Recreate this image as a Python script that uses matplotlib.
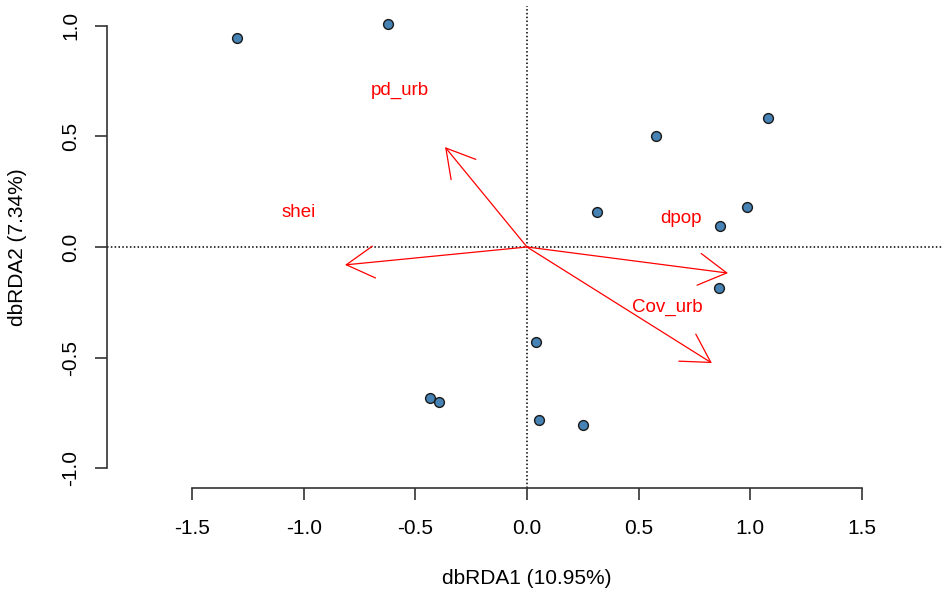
import numpy as np
import matplotlib
matplotlib.use("Agg")
import matplotlib.pyplot as plt
from matplotlib.patches import FancyArrowPatch, ArrowStyle

plt.rcParams['font.family'] = ['Liberation Sans', 'DejaVu Sans']
plt.rcParams['axes.unicode_minus'] = False

# site scores on the first two dbRDA axes
site_x = [-1.299, -0.622, 0.578, 1.079, 0.313, 0.985, 0.864, 0.860,
          0.040, -0.434, -0.394, 0.054, 0.251]
site_y = [0.946, 1.009, 0.502, 0.584, 0.158, 0.181, 0.095, -0.186,
          -0.430, -0.683, -0.701, -0.783, -0.805]

# environmental vectors (arrow tips) and their label positions
env_names = ["pd_urb", "shei", "dpop", "Cov_urb"]
env_x = [-0.367, -0.815, 0.900, 0.828]
env_y = [0.452, -0.081, -0.118, -0.525]
lab_x = [-0.569, -1.021, 0.690, 0.627]
lab_y = [0.706, 0.158, 0.131, -0.271]

xticks = [-1.5, -1.0, -0.5, 0.0, 0.5, 1.0, 1.5]
yticks = [-1.0, -0.5, 0.0, 0.5, 1.0]

fig = plt.figure(figsize=(9.43, 5.94), dpi=100)
ax = fig.add_axes([107 / 943, 106 / 594, 836 / 943, 482 / 594])
ax.set_xlim(-1.881, 1.863)
ax.set_ylim(-1.090, 1.090)

ax.axhline(0, color="black", lw=1.1, ls=(0, (1, 1.5)), zorder=1)
ax.axvline(0, color="black", lw=1.1, ls=(0, (1, 1.5)), zorder=1)

head = ArrowStyle("->", head_length=20, head_width=11.5)
for x, y in zip(env_x, env_y):
    arr = FancyArrowPatch((0, 0), (x, y), arrowstyle=head, mutation_scale=1,
                          color="red", lw=0.9, shrinkA=0, shrinkB=0, zorder=2)
    ax.add_patch(arr)
for name, x, y in zip(env_names, lab_x, lab_y):
    ax.text(x, y, name, color="red", fontsize=13.5, ha="center", va="center")

ax.scatter(site_x, site_y, s=50, color="#4682B4", edgecolors="#1a1a1a",
           linewidths=1, zorder=3)

for side in ["top", "right"]:
    ax.spines[side].set_visible(False)
for side in ["left", "bottom"]:
    ax.spines[side].set_color("#333333")
    ax.spines[side].set_linewidth(1.2)
ax.spines["bottom"].set_bounds(-1.5, 1.5)
ax.spines["left"].set_bounds(-1.0, 1.0)

ax.set_xticks(xticks)
ax.set_xticklabels([f"{v:.1f}" for v in xticks])
ax.set_yticks(yticks)
ax.set_yticklabels([f"{v:.1f}" for v in yticks], rotation=90, va="center")
ax.tick_params(axis="both", length=8.5, width=1.2, color="#333333",
               labelsize=15, pad=11)
ax.tick_params(axis="x", pad=14)

ax.set_xlabel("dbRDA1 (10.95%)", fontsize=15)
ax.set_ylabel("dbRDA2 (7.34%)", fontsize=15)
ax.xaxis.set_label_coords(0.502, -0.187)
ax.xaxis.label.set_va("center")
ax.yaxis.set_label_coords(-0.1065, 0.5)
ax.yaxis.label.set_va("center")

fig.savefig("out.png", dpi=100)
